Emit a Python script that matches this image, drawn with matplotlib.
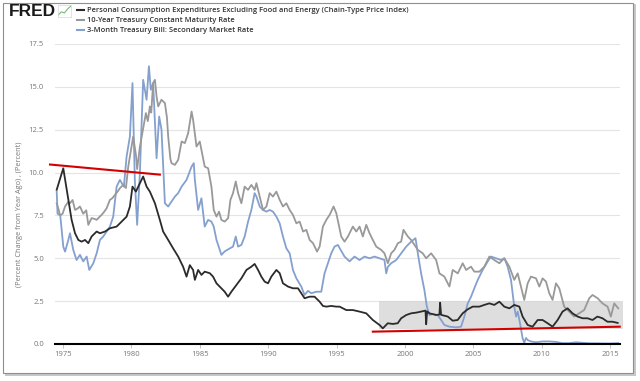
import matplotlib.pyplot as plt
from matplotlib.patches import Rectangle

# Core PCE (black), percent change from year ago
pce_years = [1974.54, 1975.02, 1975.39, 1975.63, 1975.88, 1976.12, 1976.36, 1976.61, 1976.85,
             1977.09, 1977.46, 1977.7, 1978.07, 1978.43, 1978.92, 1979.28, 1979.65, 1979.89,
             1980.08, 1980.33, 1980.62, 1980.86, 1981.11, 1981.35, 1981.72, 1982.08, 1982.32,
             1982.69, 1983.05, 1983.42, 1983.78, 1984.03, 1984.27, 1984.51, 1984.64, 1984.88,
             1985.12, 1985.36, 1985.73, 1985.97, 1986.22, 1986.58, 1986.82, 1987.07, 1987.31,
             1987.68, 1988.04, 1988.41, 1988.77, 1989.01, 1989.26, 1989.5, 1989.74, 1989.99,
             1990.23, 1990.6, 1990.84, 1991.08, 1991.45, 1991.81, 1992.18, 1992.42, 1992.66,
             1993.03, 1993.39, 1993.76, 1994.0, 1994.25, 1994.61, 1994.98, 1995.22, 1995.71,
             1996.19, 1996.68, 1997.17, 1997.65, 1998.14, 1998.38, 1998.74, 1999.11, 1999.47,
             1999.72, 2000.09, 2000.45, 2000.82, 2001.18, 2001.5, 2001.55, 2001.62, 2001.79,
             2002.28, 2002.52, 2002.57, 2002.64, 2003.13, 2003.49, 2003.85, 2004.22, 2004.58,
             2004.95, 2005.44, 2005.8, 2006.17, 2006.53, 2006.9, 2007.26, 2007.63, 2007.99,
             2008.36, 2008.6, 2008.97, 2009.33, 2009.7, 2010.06, 2010.43, 2010.79, 2011.16,
             2011.52, 2011.89, 2012.25, 2012.62, 2012.98, 2013.35, 2013.71, 2014.07, 2014.44,
             2014.8, 2015.17, 2015.55]
pce_vals = [9.0, 10.25, 8.41, 7.24, 6.46, 6.07, 5.97, 6.07, 5.88,
            6.27, 6.56, 6.46, 6.56, 6.75, 6.85, 7.14, 7.43, 8.02,
            9.18, 8.89, 9.38, 9.77, 9.18, 8.89, 8.21, 7.24, 6.56,
            6.07, 5.58, 5.10, 4.51, 3.93, 4.6, 4.32, 3.74, 4.32,
            4.03, 4.22, 4.13, 3.93, 3.54, 3.25, 3.05, 2.76, 3.05,
            3.44, 3.83, 4.32, 4.51, 4.67, 4.32, 3.93, 3.64, 3.54,
            3.93, 4.32, 4.13, 3.54, 3.35, 3.25, 3.25, 2.96, 2.67,
            2.76, 2.76, 2.47, 2.22, 2.18, 2.22, 2.18, 2.18, 1.98,
            1.98, 1.89, 1.79, 1.40, 1.11, 0.91, 1.21, 1.17, 1.21,
            1.50, 1.69, 1.79, 1.83, 1.89, 1.95, 1.15, 1.90, 1.79,
            1.69, 1.72, 2.41, 1.70, 1.60, 1.36, 1.40, 1.79, 2.02,
            2.18, 2.18, 2.28, 2.37, 2.28, 2.47, 2.18, 2.08, 2.28,
            2.18, 1.60, 1.11, 1.01, 1.40, 1.40, 1.21, 1.01, 1.40,
            1.89, 2.08, 1.79, 1.60, 1.50, 1.50, 1.40, 1.60, 1.50,
            1.30, 1.30, 1.23]

# 10-Year Treasury (gray)
t10_years = [1974.54, 1974.66, 1974.78, 1974.97, 1975.15, 1975.39, 1975.51, 1975.7, 1975.88,
             1976.06, 1976.24, 1976.48, 1976.7, 1976.85, 1977.09, 1977.3, 1977.46, 1977.65,
             1977.82, 1978.0, 1978.19, 1978.43, 1978.6, 1978.8, 1979.0, 1979.16, 1979.4,
             1979.6, 1979.77, 1980.01, 1980.13, 1980.33, 1980.42, 1980.62, 1980.86, 1981.06,
             1981.2, 1981.35, 1981.45, 1981.59, 1981.72, 1981.84, 1981.96, 1982.2, 1982.45,
             1982.6, 1982.69, 1982.85, 1982.93, 1983.18, 1983.42, 1983.67, 1983.91, 1984.15,
             1984.4, 1984.51, 1984.76, 1985.0, 1985.12, 1985.36, 1985.61, 1985.85, 1986.02,
             1986.22, 1986.41, 1986.58, 1986.82, 1987.07, 1987.24, 1987.43, 1987.63, 1987.8,
             1988.04, 1988.28, 1988.53, 1988.77, 1989.01, 1989.14, 1989.38, 1989.62, 1989.87,
             1990.11, 1990.35, 1990.6, 1990.84, 1991.08, 1991.33, 1991.57, 1991.81, 1992.06,
             1992.3, 1992.55, 1992.79, 1993.03, 1993.28, 1993.57, 1993.76, 1994.0, 1994.25,
             1994.49, 1994.78, 1994.98, 1995.34, 1995.58, 1995.83, 1996.19, 1996.44, 1996.68,
             1996.92, 1997.17, 1997.41, 1997.65, 1997.9, 1998.26, 1998.5, 1998.75, 1998.99,
             1999.23, 1999.48, 1999.72, 1999.89, 2000.21, 2000.45, 2000.94, 2001.3, 2001.55,
             2001.91, 2002.28, 2002.52, 2002.88, 2003.25, 2003.49, 2003.86, 2004.22, 2004.47,
             2004.83, 2005.07, 2005.44, 2005.8, 2006.17, 2006.53, 2006.9, 2007.26, 2007.63,
             2007.99, 2008.24, 2008.48, 2008.72, 2008.97, 2009.21, 2009.58, 2009.82, 2010.06,
             2010.31, 2010.55, 2010.79, 2011.04, 2011.28, 2011.64, 2012.01, 2012.37, 2012.74,
             2013.1, 2013.47, 2013.71, 2014.08, 2014.44, 2014.81, 2015.05, 2015.3, 2015.59]
t10_vals = [8.2, 7.9, 7.5, 7.6, 8.02, 8.3, 8.21, 8.4, 7.82,
            7.9, 8.02, 7.6, 7.8, 6.95, 7.34, 7.3, 7.24, 7.4,
            7.53, 7.7, 7.92, 8.41, 8.5, 8.70, 8.9, 9.09, 9.28,
            9.1, 10.35, 11.52, 12.1, 11.03, 10.2, 11.5, 12.59, 13.47,
            13.0, 13.86, 13.5, 15.22, 15.41, 14.44, 13.86, 14.25, 14.05,
            13.2, 12.1, 10.8, 10.55, 10.45, 10.74, 11.81, 11.72, 12.3,
            13.56, 13.08, 11.52, 11.81, 11.33, 10.35, 10.25, 9.18, 7.82,
            7.43, 7.72, 7.24, 7.14, 7.34, 8.41, 8.80, 9.48, 8.80,
            8.21, 9.18, 8.99, 9.28, 8.99, 9.38, 8.60, 7.82, 8.02,
            8.80, 8.60, 8.89, 8.41, 8.02, 8.21, 7.82, 7.53, 7.04,
            7.14, 6.56, 6.66, 6.07, 5.88, 5.39, 5.68, 6.85, 7.24,
            7.53, 8.02, 7.63, 6.27, 5.97, 6.27, 6.85, 6.56, 6.85,
            6.27, 6.95, 6.46, 6.07, 5.68, 5.49, 5.29, 4.71, 5.29,
            5.49, 5.88, 5.97, 6.66, 6.27, 6.07, 5.49, 5.29, 5.0,
            5.29, 4.90, 4.12, 3.93, 3.35, 4.32, 4.12, 4.71, 4.32,
            4.51, 4.22, 4.22, 4.51, 5.10, 4.90, 4.71, 5.0, 4.51,
            3.74, 4.12, 3.35, 2.57, 3.54, 3.93, 3.83, 3.35, 3.83,
            3.64, 2.96, 2.57, 3.54, 3.25, 2.18, 1.89, 1.60, 1.79,
            1.98, 2.67, 2.86, 2.67, 2.37, 2.18, 1.60, 2.37, 2.08]

# 3-Month Treasury Bill (blue)
tb3_years = [1974.54, 1974.6, 1974.8, 1975.02, 1975.15, 1975.39, 1975.51, 1975.75, 1975.99,
             1976.24, 1976.48, 1976.73, 1976.92, 1977.21, 1977.46, 1977.7, 1977.94, 1978.19,
             1978.43, 1978.67, 1978.92, 1979.16, 1979.45, 1979.65, 1979.89, 1980.08, 1980.25,
             1980.42, 1980.62, 1980.86, 1981.11, 1981.28, 1981.42, 1981.59, 1981.84, 1982.03,
             1982.2, 1982.45, 1982.69, 1982.93, 1983.18, 1983.42, 1983.67, 1984.03, 1984.4,
             1984.56, 1984.64, 1984.88, 1985.12, 1985.36, 1985.61, 1985.85, 1986.02, 1986.22,
             1986.58, 1986.82, 1987.2, 1987.43, 1987.63, 1987.8, 1988.04, 1988.28, 1988.53,
             1988.77, 1989.01, 1989.14, 1989.38, 1989.62, 1989.87, 1990.11, 1990.35, 1990.6,
             1990.84, 1991.08, 1991.33, 1991.57, 1991.81, 1992.06, 1992.42, 1992.66, 1992.91,
             1993.15, 1993.52, 1993.88, 1994.12, 1994.37, 1994.61, 1994.85, 1995.1, 1995.22,
             1995.58, 1995.95, 1996.31, 1996.68, 1997.04, 1997.41, 1997.77, 1998.14, 1998.5,
             1998.63, 1998.75, 1998.99, 1999.36, 1999.72, 2000.09, 2000.45, 2000.77, 2000.94,
             2001.18, 2001.42, 2001.6, 2001.79, 2002.03, 2002.4, 2002.64, 2002.88, 2003.25,
             2003.73, 2004.1, 2004.34, 2004.59, 2004.83, 2005.07, 2005.32, 2005.68, 2006.05,
             2006.29, 2006.66, 2007.02, 2007.27, 2007.51, 2007.75, 2007.99, 2008.12, 2008.24,
             2008.41, 2008.6, 2008.72, 2008.85, 2008.97, 2009.21, 2009.58, 2010.06, 2010.55,
             2011.04, 2011.5, 2012.0, 2012.5, 2013.0, 2013.5, 2014.0, 2014.5, 2015.0, 2015.59]
tb3_vals = [8.9, 7.6, 7.5, 5.68, 5.39, 6.07, 6.46, 5.49, 4.90,
            5.20, 4.82, 5.1, 4.32, 4.7, 5.29, 6.07, 6.27, 6.56,
            6.85, 7.43, 9.18, 9.57, 9.18, 10.94, 12.1, 15.22, 9.57,
            6.95, 9.96, 15.41, 14.25, 16.2, 14.83, 15.22, 10.84, 13.27,
            12.5, 8.21, 8.02, 8.3, 8.60, 8.8, 9.18, 9.57, 10.35,
            10.55, 9.57, 7.82, 8.5, 6.85, 7.24, 7.14, 6.85, 6.07,
            5.2, 5.4, 5.58, 5.68, 6.27, 5.68, 5.78, 6.27, 7.14,
            7.82, 8.8, 8.6, 8.02, 7.82, 7.72, 7.82, 7.72, 7.43,
            7.04, 6.27, 5.58, 5.29, 4.32, 3.83, 3.35, 2.86, 3.1,
            2.96, 3.05, 3.05, 4.12, 4.71, 5.29, 5.68, 5.78, 5.6,
            5.10, 4.82, 5.1, 4.9, 5.1, 5.0, 5.1, 5.0, 4.9,
            4.12, 4.5, 4.71, 4.9, 5.29, 5.68, 5.97, 6.17, 5.29,
            4.12, 3.15, 2.18, 1.69, 1.75, 1.69, 1.40, 1.11, 1.01,
            0.97, 1.01, 1.60, 2.37, 2.76, 3.25, 3.74, 4.32, 4.82,
            5.1, 5.0, 4.9, 5.0, 4.5, 3.74, 2.18, 1.6, 1.89,
            1.21, 0.33, 0.08, 0.35, 0.23, 0.15, 0.1, 0.15, 0.15,
            0.12, 0.05, 0.05, 0.1, 0.07, 0.04, 0.04, 0.03, 0.03, 0.05]

# annotations drawn on the chart
trend1_x = [1974.05, 1982.08]
trend1_y = [10.47, 9.88]
trend2_x = [1997.65, 2015.7]
trend2_y = [0.72, 1.01]
band_x = [1998.09, 2015.95]
band_y = [0.88, 2.53]

labels = ["Personal Consumption Expenditures Excluding Food and Energy (Chain-Type Price Index)",
          "10-Year Treasury Constant Maturity Rate",
          "3-Month Treasury Bill: Secondary Market Rate"]
colors = ["#2b2b2b", "#999999", "#84a0cf"]

W, H = 640, 381
fig = plt.figure(figsize=(6.4, 3.81), dpi=100)

# outer frame with shadow
fig.patches.append(Rectangle((5 / W, 1 - 376 / H), 631 / W, 372 / H, transform=fig.transFigure,
                             facecolor="#c8c8c8", edgecolor="none", zorder=-3))
fig.patches.append(Rectangle((3 / W, 1 - 373 / H), 630 / W, 370.5 / H, transform=fig.transFigure,
                             facecolor="white", edgecolor="#8f8f8f", linewidth=0.8, zorder=-2))

ax = fig.add_axes([55 / W, 1 - 344 / H, 565 / W, 300 / H])
ax.set_zorder(2)
ax.set_facecolor("none")
ax.set_xlim(1974.415, 2015.72)
ax.set_ylim(0, 17.5)

ax.add_patch(Rectangle((band_x[0], band_y[0]), band_x[1] - band_x[0], band_y[1] - band_y[0],
                       facecolor="#d4d4d4", alpha=0.75, edgecolor="none", zorder=1, clip_on=False))

ax.plot(tb3_years, tb3_vals, color=colors[2], lw=1.3, zorder=3)
ax.plot(t10_years, t10_vals, color=colors[1], lw=1.3, zorder=3)
ax.plot(pce_years, pce_vals, color=colors[0], lw=1.3, zorder=4)

ax.plot(trend1_x, trend1_y, color="#d40000", lw=1.5, zorder=5, clip_on=False)
ax.plot(trend2_x, trend2_y, color="#d40000", lw=1.5, zorder=5, clip_on=False)

ax.set_yticks([0, 2.5, 5, 7.5, 10, 12.5, 15, 17.5])
ax.set_yticklabels(["%.1f" % v for v in ax.get_yticks()])
ax.set_xticks(range(1975, 2016, 5))
ax.grid(axis="y", color="#e4e4e4", lw=0.8)
ax.set_axisbelow(True)
for s in ["top", "right", "left"]:
    ax.spines[s].set_visible(False)
ax.spines["bottom"].set_color("black")
ax.spines["bottom"].set_linewidth(1.5)
ax.spines["bottom"].set_zorder(6)
ax.tick_params(axis="y", length=0, pad=8, labelsize=5.5, labelcolor="#777777")
ax.tick_params(axis="x", length=3, width=0.6, color="#bbbbbb", pad=2, labelsize=5.5,
               labelcolor="#777777")
for t in ax.get_xticklabels() + ax.get_yticklabels():
    t.set_family("Open Sans")

fig.text(20 / W, 1 - 214 / H, "(Percent Change from Year Ago) , (Percent)", rotation=90,
         fontsize=5.3, color="#777777", family="Open Sans", ha="center", va="center")

# FRED logo and legend
fig.text(9 / W, 1 - 11 / H, "FRED", fontsize=12.5, weight="heavy", family="Liberation Sans",
         va="center", ha="left", color="#1a1a1a")
icon = fig.add_axes([58 / W, 1 - 17 / H, 13 / W, 12 / H])
icon.set_zorder(2)
icon.plot([0, 1, 2, 3, 4], [0.5, 1.5, 1.2, 2.4, 3.2], color="#7ab87a", lw=0.8)
icon.set_xlim(0, 4)
icon.set_ylim(0, 3.5)
icon.set_xticks([])
icon.set_yticks([])
for s in icon.spines.values():
    s.set_color("#d8d8d8")
    s.set_linewidth(0.5)

for i, (lab, c) in enumerate(zip(labels, colors)):
    y = 1 - (10 + 10 * i) / H
    fig.add_artist(plt.Line2D([77 / W, 84 / W], [y, y], color=c, lw=1.5, transform=fig.transFigure))
    fig.text(87 / W, y, lab, fontsize=5.4, weight="semibold", family="Open Sans",
             color="#333333", va="center", ha="left")

fig.savefig("out.png", dpi=100)
